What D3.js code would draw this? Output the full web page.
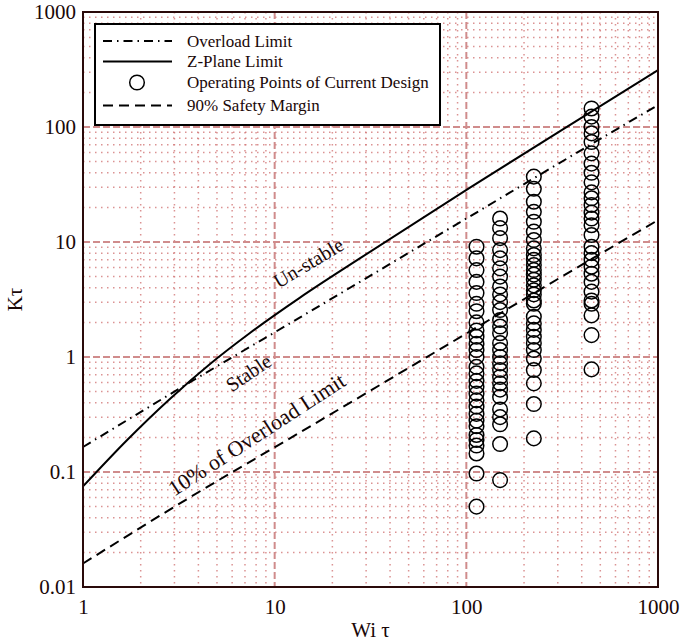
<!DOCTYPE html>
<html>
<head>
<meta charset="utf-8">
<script src="https://cdnjs.cloudflare.com/ajax/libs/d3/7.8.5/d3.min.js"></script>
<style>
  body { margin: 0; background: #fff; }
  text { font-family: "Liberation Serif", "DejaVu Serif", serif; fill: #1a0808; }
</style>
</head>
<body>
<div id="chart"></div>
<script>
// Tick labels
const xTicks = [1, 10, 100, 1000];
const yTicks = [0.01, 0.1, 1, 10, 100, 1000];

// Z-Plane Limit (solid)
const zPlaneX = [1, 1.7, 2.83, 4.6, 7.4, 13.5, 27.8, 104, 561, 1000];
const zPlaneY = [0.075, 0.19, 0.43, 0.87, 1.61, 3.27, 7.2, 29.6, 171, 312];

// Overload Limit (dash-dot)
const overloadX = [1, 3.6, 13.5, 92.5, 540, 1000];
const overloadY = [0.165, 0.6, 2.2, 14.8, 85, 155];

// 90% Safety Margin (dashed)
const safetyX = [1, 3.6, 13.5, 92.5, 540, 1000];
const safetyY = [0.016, 0.06, 0.22, 1.48, 8.5, 15.5];

// Operating points of current design, one column per Wi tau value
const opColumns = [113, 150, 225, 450];
const opCol1 = [9.1, 7.2, 5.7, 4.5, 3.6, 2.9, 2.5, 2.0, 1.7, 1.5, 1.3, 1.15, 1.0, 0.82, 0.72, 0.62,
                0.55, 0.48, 0.42, 0.37, 0.32, 0.28, 0.25, 0.21, 0.19, 0.17, 0.145, 0.097, 0.05];
const opCol2 = [16, 13.2, 10.8, 8.5, 7.2, 5.9, 5.0, 4.1, 3.5, 3.0, 2.56, 2.1, 1.84, 1.61, 1.32, 1.15,
                1.0, 0.88, 0.77, 0.67, 0.59, 0.52, 0.45, 0.35, 0.30, 0.26, 0.175, 0.085];
const opCol3 = [37, 29, 22.4, 18.3, 15, 12.3, 10.4, 8.8, 7.7, 7.0, 6.3, 5.7, 5.2, 4.7, 4.2, 3.8, 3.5,
                3.1, 2.9, 2.24, 1.96, 1.72, 1.5, 1.32, 1.15, 0.97, 0.77, 0.59, 0.39, 0.196];
const opCol4 = [145, 123, 100, 88, 74, 59, 48, 40, 33, 27, 24, 21, 18, 16, 14, 11.5, 9.1, 8.0, 7.0,
                6.1, 5.3, 4.5, 3.7, 3.1, 2.9, 2.3, 1.55, 0.78];

const legendLabels = ["Overload Limit", "Z-Plane Limit", "Operating Points of Current Design", "90% Safety Margin"];

const width = 684, height = 642;
const margin = { top: 12, right: 26, bottom: 55, left: 83 };

const svg = d3.select("#chart").append("svg")
    .attr("width", width)
    .attr("height", height);

const x = d3.scaleLog().domain([1, 1000]).range([margin.left, width - margin.right]);
const y = d3.scaleLog().domain([0.01, 1000]).range([height - margin.bottom, margin.top]);

const isMajor = v => Math.abs(Math.log10(v) - Math.round(Math.log10(v))) < 1e-9;

// minor grid (dotted)
const grid = svg.append("g");
grid.selectAll(".vminor")
    .data(x.ticks().filter(v => !isMajor(v)))
    .enter().append("line")
    .attr("x1", d => x(d)).attr("x2", d => x(d))
    .attr("y1", y(1000)).attr("y2", y(0.01))
    .attr("stroke", "#cf6f6f").attr("stroke-opacity", 0.75)
    .attr("stroke-width", 1.5).attr("stroke-dasharray", "1.5,4.5");
grid.selectAll(".hminor")
    .data(y.ticks().filter(v => !isMajor(v)))
    .enter().append("line")
    .attr("y1", d => y(d)).attr("y2", d => y(d))
    .attr("x1", x(1)).attr("x2", x(1000))
    .attr("stroke", "#cf6f6f").attr("stroke-opacity", 0.75)
    .attr("stroke-width", 1.5).attr("stroke-dasharray", "1.5,4.5");

// major grid (dashed)
grid.selectAll(".vmajor")
    .data(xTicks.slice(1, -1))
    .enter().append("line")
    .attr("x1", d => x(d)).attr("x2", d => x(d))
    .attr("y1", y(1000)).attr("y2", y(0.01))
    .attr("stroke", "#d08c8c").attr("stroke-width", 2).attr("stroke-dasharray", "7,3");
grid.selectAll(".hmajor")
    .data(yTicks.slice(1, -1))
    .enter().append("line")
    .attr("y1", d => y(d)).attr("y2", d => y(d))
    .attr("x1", x(1)).attr("x2", x(1000))
    .attr("stroke", "#d08c8c").attr("stroke-width", 2).attr("stroke-dasharray", "7,3");

// curves
const line = d3.line()
    .x(d => x(d[0]))
    .y(d => y(d[1]))
    .curve(d3.curveMonotoneX);

svg.append("path")
    .datum(d3.zip(zPlaneX, zPlaneY))
    .attr("d", line)
    .attr("fill", "none").attr("stroke", "#000").attr("stroke-width", 2);

svg.append("path")
    .datum(d3.zip(overloadX, overloadY))
    .attr("d", line)
    .attr("fill", "none").attr("stroke", "#000").attr("stroke-width", 2)
    .attr("stroke-dasharray", "9,5,1.5,5");

svg.append("path")
    .datum(d3.zip(safetyX, safetyY))
    .attr("d", line)
    .attr("fill", "none").attr("stroke", "#000").attr("stroke-width", 2)
    .attr("stroke-dasharray", "10,6");

// operating points
const points = [];
[opCol1, opCol2, opCol3, opCol4].forEach((col, i) => {
    col.forEach(v => points.push({ wi: opColumns[i], k: v }));
});

svg.append("g")
    .selectAll("circle")
    .data(points)
    .enter().append("circle")
    .attr("cx", d => x(d.wi))
    .attr("cy", d => y(d.k))
    .attr("r", 7.3)
    .attr("fill", "none")
    .attr("stroke", "#000")
    .attr("stroke-width", 1.5);

// region annotations
svg.append("text")
    .attr("transform", `translate(${x(15)},${y(6.6)}) rotate(-31)`)
    .attr("text-anchor", "middle").attr("dominant-baseline", "central")
    .style("font-size", "20px")
    .text("Un-stable");

svg.append("text")
    .attr("transform", `translate(${x(7.3)},${y(0.73)}) rotate(-34)`)
    .attr("text-anchor", "middle").attr("dominant-baseline", "central")
    .style("font-size", "20px")
    .text("Stable");

svg.append("text")
    .attr("transform", `translate(${x(8.05)},${y(0.212)}) rotate(-33)`)
    .attr("text-anchor", "middle").attr("dominant-baseline", "central")
    .style("font-size", "22px")
    .text("10% of Overload Limit");

// legend
const legend = svg.append("g");
legend.append("rect")
    .attr("x", 95).attr("y", 24)
    .attr("width", 345).attr("height", 101)
    .attr("fill", "#fff").attr("stroke", "#000").attr("stroke-width", 2);

const legendBase = [46.5, 67, 88, 111];
const legendDash = ["9,5,1.5,5", null, null, "10,6"];
legendLabels.forEach((label, i) => {
    const cy = legendBase[i] - 5.5;
    if (i === 2) {
        legend.append("circle")
            .attr("cx", 137).attr("cy", cy).attr("r", 7.3)
            .attr("fill", "none").attr("stroke", "#000").attr("stroke-width", 1.5);
    } else {
        legend.append("line")
            .attr("x1", 103).attr("x2", 172)
            .attr("y1", cy).attr("y2", cy)
            .attr("stroke", "#000").attr("stroke-width", 2)
            .attr("stroke-dasharray", legendDash[i]);
    }
    legend.append("text")
        .attr("x", 187).attr("y", legendBase[i])
        .style("font-size", "17px")
        .text(label);
});

// axes
const fmt = d => (d < 1 ? String(d) : d3.format("d")(d));

const xAxis = svg.append("g")
    .attr("transform", `translate(0,${height - margin.bottom})`)
    .call(d3.axisBottom(x).tickValues(xTicks).tickFormat(fmt).tickSize(0).tickPadding(12));
xAxis.select(".domain").remove();
xAxis.selectAll("text")
    .style("font-size", "21px")
    .style("font-family", "Liberation Serif, serif")
    .attr("fill", "#1a0808");

const yAxis = svg.append("g")
    .attr("transform", `translate(${margin.left},0)`)
    .call(d3.axisLeft(y).tickValues(yTicks).tickFormat(fmt).tickSize(0).tickPadding(7));
yAxis.select(".domain").remove();
yAxis.selectAll("text")
    .style("font-size", "21px")
    .style("font-family", "Liberation Serif, serif")
    .attr("fill", "#1a0808");

// frame
svg.append("rect")
    .attr("x", x(1)).attr("y", y(1000))
    .attr("width", x(1000) - x(1))
    .attr("height", y(0.01) - y(1000))
    .attr("fill", "none")
    .attr("stroke", "#2a0a0a")
    .attr("stroke-width", 2);

// axis titles
svg.append("text")
    .attr("x", (x(1) + x(1000)) / 2)
    .attr("y", 637)
    .attr("text-anchor", "middle")
    .style("font-size", "21px")
    .text("Wi τ");

svg.append("text")
    .attr("transform", `translate(22,${(y(1000) + y(0.01)) / 2}) rotate(-90)`)
    .attr("text-anchor", "middle")
    .style("font-size", "21px")
    .text("Kτ");
</script>
</body>
</html>
